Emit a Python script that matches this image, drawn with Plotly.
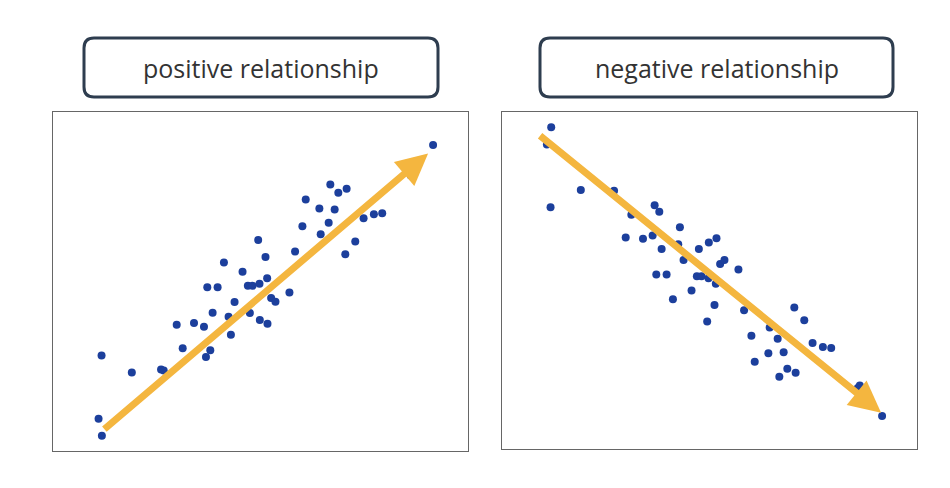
import plotly.graph_objects as go

W, H = 950, 488
pos_x = [146,137,147,237,325,333,372,390,424,454,460,473,464,495,480,514,528,535,546,570,586,600,621,592,617,639,644,622,645,656,669,711,728,750,760,801,805,829,834,858,883,847,879,909,934,965,990,1076,1143]
pos_y = [733,923,974,784,775,778,640,711,635,646,737,717,527,527,604,453,616,670,572,481,523,523,517,605,385,436,500,626,637,560,571,543,420,344,263,290,368,333,218,243,231,293,428,390,320,308,305,191,99]
neg_x = [148,135,146,237,337,389,372,424,453,459,473,480,535,530,546,464,495,514,570,586,600,621,592,622,645,643,639,617,656,669,711,728,750,760,801,805,829,834,858,883,847,879,909,934,965,990,1076,1070,1143]
neg_y = [46,98,288,236,238,311,380,384,374,282,302,415,349,400,448,492,492,567,540,497,497,503,415,395,382,520,584,634,460,448,477,600,677,756,730,652,686,801,777,789,727,592,630,699,711,714,828,835,920]
titles = ["positive relationship", "negative relationship"]
pos_arrow = [150, 958, 1128, 125]
neg_arrow = [110, 68, 1140, 910]

OFF = 8
fig = go.Figure()
fig.add_trace(go.Scatter(x=pos_x, y=pos_y, mode="markers", marker=dict(size=8, color="#1c3f9c"), xaxis="x", yaxis="y"))
fig.add_trace(go.Scatter(x=neg_x, y=neg_y, mode="markers", marker=dict(size=8, color="#1c3f9c"), xaxis="x2", yaxis="y2"))

def px(x): return (x - OFF) / W
def py(y): return 1 - (y - OFF) / H

ax_common = dict(range=[0, 1248], showgrid=False, zeroline=False, showticklabels=False, showline=True, mirror=True, linecolor="#666", linewidth=1)
ay_common = dict(range=[1020, 0], showgrid=False, zeroline=False, showticklabels=False, showline=True, mirror=True, linecolor="#666", linewidth=1)
fig.update_layout(
    width=W, height=H, margin=dict(l=0, r=0, t=0, b=0), showlegend=False,
    paper_bgcolor="white", plot_bgcolor="white",
    xaxis=dict(domain=[px(53), px(468)], **ax_common),
    yaxis=dict(domain=[py(451), py(112)], **ay_common),
    xaxis2=dict(domain=[px(502), px(917)], anchor="y2", **ax_common),
    yaxis2=dict(domain=[py(449), py(112)], anchor="x2", **ay_common),
)

for (xr, yr, a) in [("x", "y", pos_arrow), ("x2", "y2", neg_arrow)]:
    fig.add_annotation(x=a[2], y=a[3], ax=a[0], ay=a[1], xref=xr, yref=yr, axref=xr, ayref=yr,
                       showarrow=True, arrowhead=2, arrowsize=0.9, arrowwidth=7, arrowcolor="#f4b63f", text="")

def rrect(x0, y0, x1, y1, r):
    return (f"M{px(x0+r)},{py(y0)} L{px(x1-r)},{py(y0)} Q{px(x1)},{py(y0)} {px(x1)},{py(y0+r)} "
            f"L{px(x1)},{py(y1-r)} Q{px(x1)},{py(y1)} {px(x1-r)},{py(y1)} L{px(x0+r)},{py(y1)} "
            f"Q{px(x0)},{py(y1)} {px(x0)},{py(y1-r)} L{px(x0)},{py(y0+r)} Q{px(x0)},{py(y0)} {px(x0+r)},{py(y0)} Z")

for (x0, x1), t in zip([(84, 438), (540, 893)], titles):
    fig.add_shape(type="path", path=rrect(x0, 38, x1, 97, 10), xref="paper", yref="paper",
                  line=dict(color="#2e3d4f", width=3), fillcolor="white", layer="below")
    fig.add_annotation(x=px((x0 + x1) / 2), y=py(67.5), xref="paper", yref="paper", text=t, showarrow=False,
                       xanchor="center", yanchor="middle",
                       font=dict(family="Open Sans", size=25, color="#333333"))

fig.write_html("out.html")
